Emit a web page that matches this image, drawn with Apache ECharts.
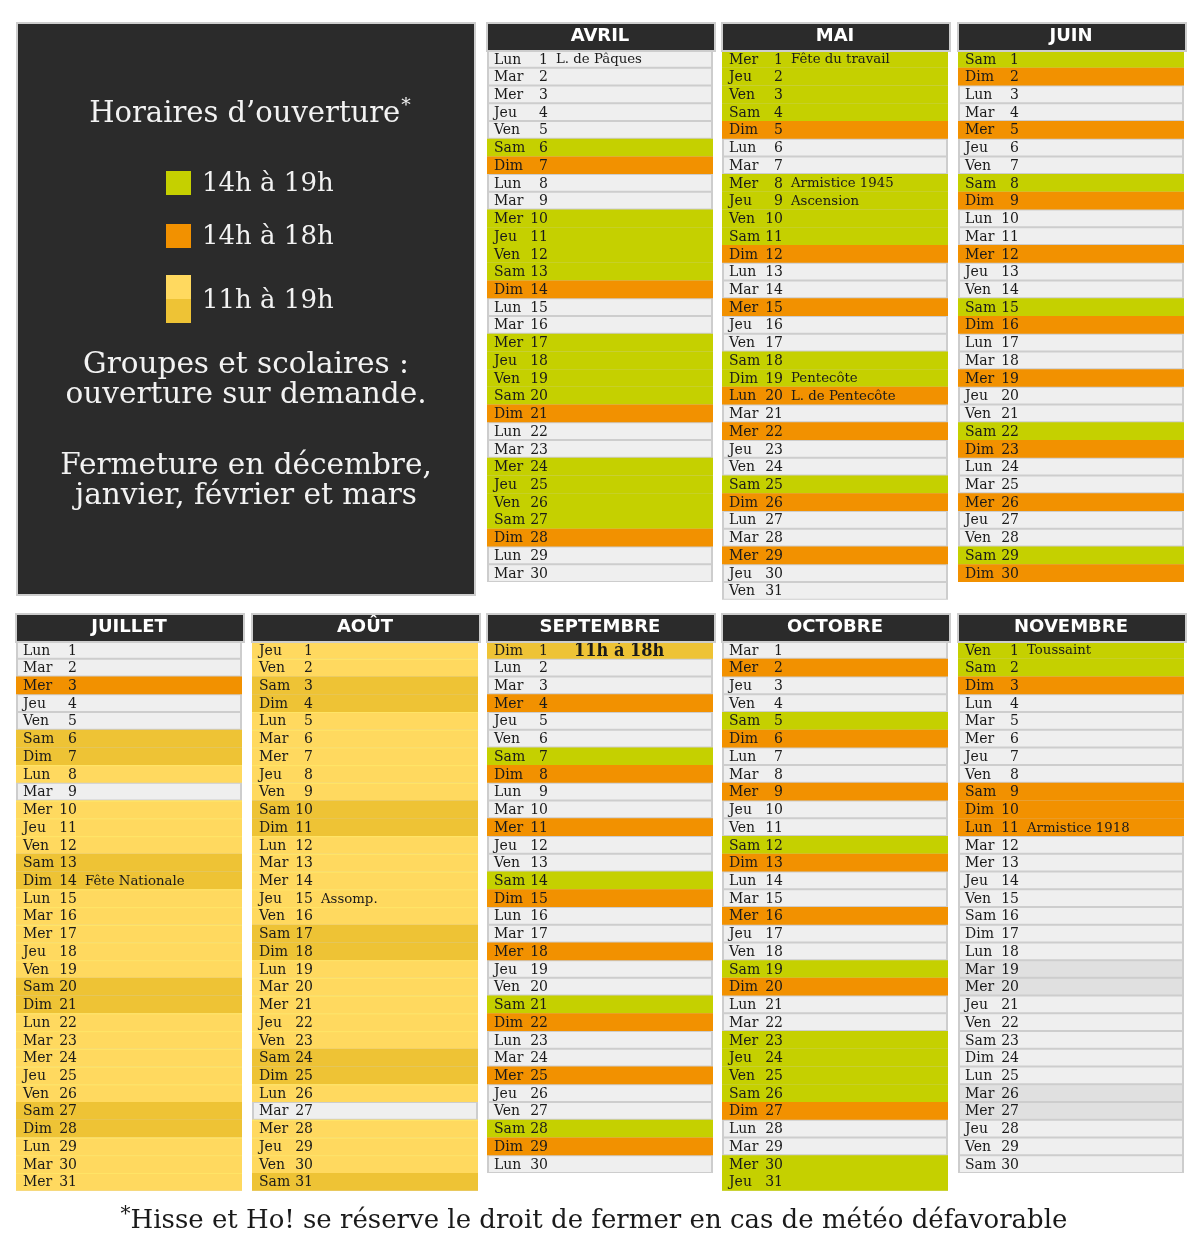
<!DOCTYPE html>
<html>
<head>
<meta charset="utf-8">
<script src="https://cdn.jsdelivr.net/npm/echarts@6/dist/echarts.min.js"></script>
<style>
html,body{margin:0;padding:0;background:#ffffff;}
#chart{width:1200px;height:1259px;}
</style>
</head>
<body>
<div id="chart"></div>
<script>
// ---------------- DATA ----------------
const monthNames = ['AVRIL', 'MAI', 'JUIN', 'JUILLET', 'AOÛT', 'SEPTEMBRE', 'OCTOBRE', 'NOVEMBRE'];
const weekdayNames = ['Lun', 'Mar', 'Mer', 'Jeu', 'Ven', 'Sam', 'Dim'];
// weekday index (0 = Lun) of the 1st of each month
const firstWeekday = [0, 2, 5, 0, 3, 6, 1, 4];
// status per day: w = fermé, g = 14h-19h, o = 14h-18h, y / Y = 11h-19h (semaine / week-end), S = 11h-18h, d = fermé (gris)
const avril     = 'wwwwwgowwggggowwggggowwggggoww'.split('');
const mai       = 'ggggowwggggowwowwggowowwgowwoww'.split('');
const juin      = 'gowwowwgowwowwgowwowwgowwowwgo'.split('');
const juillet   = 'wwowwYYywyyyYYyyyyyYYyyyyyYYyyy'.split('');
const aout      = 'yyYYyyyyyYYyyyyyYYyyyyyYYywyyyY'.split('');
const septembre = 'Swwowwgowwowwgowwowwgowwowwgow'.split('');
const octobre   = 'wowwgowwowwgowwowwgowwggggowwgg'.split('');
const novembre  = 'ggowwwwwooowwwwwwwddwwwwwddwww'.split('');
const monthStatus = [avril, mai, juin, juillet, aout, septembre, octobre, novembre];
// notes: [month index, day, text]
const notes = [
  [0, 1, 'L. de Pâques'],
  [1, 1, 'Fête du travail'],
  [1, 8, 'Armistice 1945'],
  [1, 9, 'Ascension'],
  [1, 19, 'Pentecôte'],
  [1, 20, 'L. de Pentecôte'],
  [3, 14, 'Fête Nationale'],
  [4, 15, 'Assomp.'],
  [7, 1, 'Toussaint'],
  [7, 11, 'Armistice 1918']
];
const specialNotes = [[5, 1, '11h à 18h']];
const legendItems = ['14h à 19h', '14h à 18h', '11h à 19h'];

// ---------------- STYLE / LAYOUT ----------------
const colors = {
  w: '#efefef', d: '#e0e0e0', g: '#c5d000', o: '#f29100',
  y: '#ffd95f', Y: '#eec335', S: '#eec335'
};
const rowH = 17.73;
const colW = 226;
const layout = [
  {x: 487, top: 50}, {x: 722, top: 50}, {x: 958, top: 50},
  {x: 16, top: 641}, {x: 252, top: 641}, {x: 487, top: 641}, {x: 722, top: 641}, {x: 958, top: 641}
];
const serif = '"DejaVu Serif", serif';
const serifCond = '"DejaVu Serif Condensed", "DejaVu Serif", serif';

const grids = [], xAxes = [], yAxes = [], series = [], graphics = [];

monthStatus.forEach(function (st, m) {
  const n = st.length;
  const L = layout[m];
  grids.push({left: L.x, top: L.top, width: colW, height: n * rowH, show: true,
    backgroundColor: '#cdcdcd', borderWidth: 0});
  xAxes.push({type: 'value', gridIndex: m, min: 0, max: 1, show: false});
  const cats = st.map(function (_, i) { return String(i + 1); });
  yAxes.push({type: 'category', gridIndex: m, data: cats, inverse: true, show: false});
  const noteMap = {}, specMap = {};
  notes.forEach(function (nt) { if (nt[0] === m) noteMap[nt[1] - 1] = nt[2]; });
  specialNotes.forEach(function (nt) { if (nt[0] === m) specMap[nt[1] - 1] = nt[2]; });
  series.push({
    type: 'custom', xAxisIndex: m, yAxisIndex: m, silent: true, animation: false,
    data: st.map(function (s, i) { return [1, i]; }),
    encode: {x: 0, y: 1},
    renderItem: function (params, api) {
      const i = api.value(1);
      const p0 = api.coord([0, i]);
      const p1 = api.coord([1, i]);
      const h = api.size([1, 1])[1];
      const x0 = p0[0], w = p1[0] - p0[0];
      const y0 = p0[1] - h / 2, cy = p0[1] + 1;
      const s = st[i];
      const children = [];
      if (s === 'w' || s === 'd') {
        children.push({type: 'rect', shape: {x: x0 + 2, y: y0 + 1, width: w - 4, height: h - 2},
          style: {fill: colors[s]}});
      } else {
        children.push({type: 'rect', shape: {x: x0, y: y0, width: w, height: h},
          style: {fill: colors[s]}});
        if (s === 'y') {
          children.push({type: 'rect', shape: {x: x0, y: y0, width: w, height: 1.2},
            style: {fill: '#ffe466'}});
        }
      }
      const wd = weekdayNames[(firstWeekday[m] + i) % 7];
      children.push({type: 'text', style: {text: wd, x: x0 + 7, y: cy, align: 'left', verticalAlign: 'middle',
        fontFamily: serif, fontSize: 14, fill: '#1a1a1a'}});
      children.push({type: 'text', style: {text: String(i + 1), x: x0 + 61, y: cy, align: 'right', verticalAlign: 'middle',
        fontFamily: serif, fontSize: 14, fill: '#1a1a1a'}});
      if (noteMap[i]) {
        children.push({type: 'text', style: {text: noteMap[i], x: x0 + 69, y: cy, align: 'left', verticalAlign: 'middle',
          fontFamily: serif, fontSize: 13.3, fill: '#1a1a1a'}});
      }
      if (specMap[i]) {
        children.push({type: 'text', style: {text: specMap[i], x: x0 + 87, y: cy, align: 'left', verticalAlign: 'middle',
          fontFamily: serifCond, fontSize: 18, fontWeight: 'bold', fill: '#1a1a1a'}});
      }
      return {type: 'group', children: children};
    }
  });
  // header
  graphics.push({type: 'rect', left: L.x - 1, top: L.top - 28, shape: {width: colW + 2, height: 28},
    style: {fill: '#2b2b2b', stroke: '#cdcdcd', lineWidth: 2}, z: 10});
  graphics.push({type: 'text', x: L.x + colW / 2, y: L.top - 13.5, z: 11,
    style: {text: monthNames[m], align: 'center', verticalAlign: 'middle',
      fontFamily: '"DejaVu Sans", sans-serif', fontWeight: 'bold', fontSize: 18, fill: '#ffffff'}});
});

// left info panel
graphics.push({type: 'rect', shape: {x: 17, y: 23, width: 458, height: 572},
  style: {fill: '#2b2b2b', stroke: '#cdcdcd', lineWidth: 2}, z: 1});
graphics.push({type: 'text', x: 250, y: 114, z: 2,
  style: {text: '{a|Horaires d’ouverture}{s|*}', align: 'center', verticalAlign: 'middle',
    rich: {a: {fontFamily: serif, fontSize: 29, fill: '#f2f2f2', lineHeight: 34},
           s: {fontFamily: serif, fontSize: 19, fill: '#f2f2f2', verticalAlign: 'top', lineHeight: 34, padding: [0, 0, 12, 1]}}}});
const legendColors = [[colors.g], [colors.o], [colors.y, colors.Y]];
const legendY = [183, 236, 300];
legendItems.forEach(function (t, k) {
  const cs = legendColors[k];
  if (cs.length === 1) {
    graphics.push({type: 'rect', shape: {x: 166, y: legendY[k] - 12, width: 25, height: 24},
      style: {fill: cs[0]}, z: 2});
  } else {
    graphics.push({type: 'rect', shape: {x: 166, y: legendY[k] - 25, width: 25, height: 24},
      style: {fill: cs[0]}, z: 2});
    graphics.push({type: 'rect', shape: {x: 166, y: legendY[k] - 1, width: 25, height: 24},
      style: {fill: cs[1]}, z: 2});
  }
  graphics.push({type: 'text', x: 202, y: legendY[k] + 1, z: 2,
    style: {text: t, align: 'left', verticalAlign: 'middle', fontFamily: serif, fontSize: 26, fill: '#f2f2f2'}});
});
const panelLines = [['Groupes et scolaires :', 365], ['ouverture sur demande.', 395],
  ['Fermeture en décembre,', 466], ['janvier, février et mars', 496]];
panelLines.forEach(function (pl) {
  graphics.push({type: 'text', x: 246, y: pl[1], z: 2,
    style: {text: pl[0], align: 'center', verticalAlign: 'middle', fontFamily: serif, fontSize: 29.5, fill: '#f2f2f2'}});
});

// footer
graphics.push({type: 'text', x: 594, y: 1221, z: 2,
  style: {text: '{s|*}{a|Hisse et Ho! se réserve le droit de fermer en cas de météo défavorable}',
    align: 'center', verticalAlign: 'middle',
    rich: {a: {fontFamily: serif, fontSize: 26, fill: '#1a1a1a', lineHeight: 32},
           s: {fontFamily: serif, fontSize: 20, fill: '#1a1a1a', verticalAlign: 'top', lineHeight: 32, padding: [0, 0, 12, 0]}}}});

const chart = echarts.init(document.getElementById('chart'), null, {renderer: 'canvas'});
chart.setOption({
  animation: false,
  backgroundColor: '#ffffff',
  grid: grids,
  xAxis: xAxes,
  yAxis: yAxes,
  series: series,
  graphic: graphics
});
</script>
</body>
</html>
